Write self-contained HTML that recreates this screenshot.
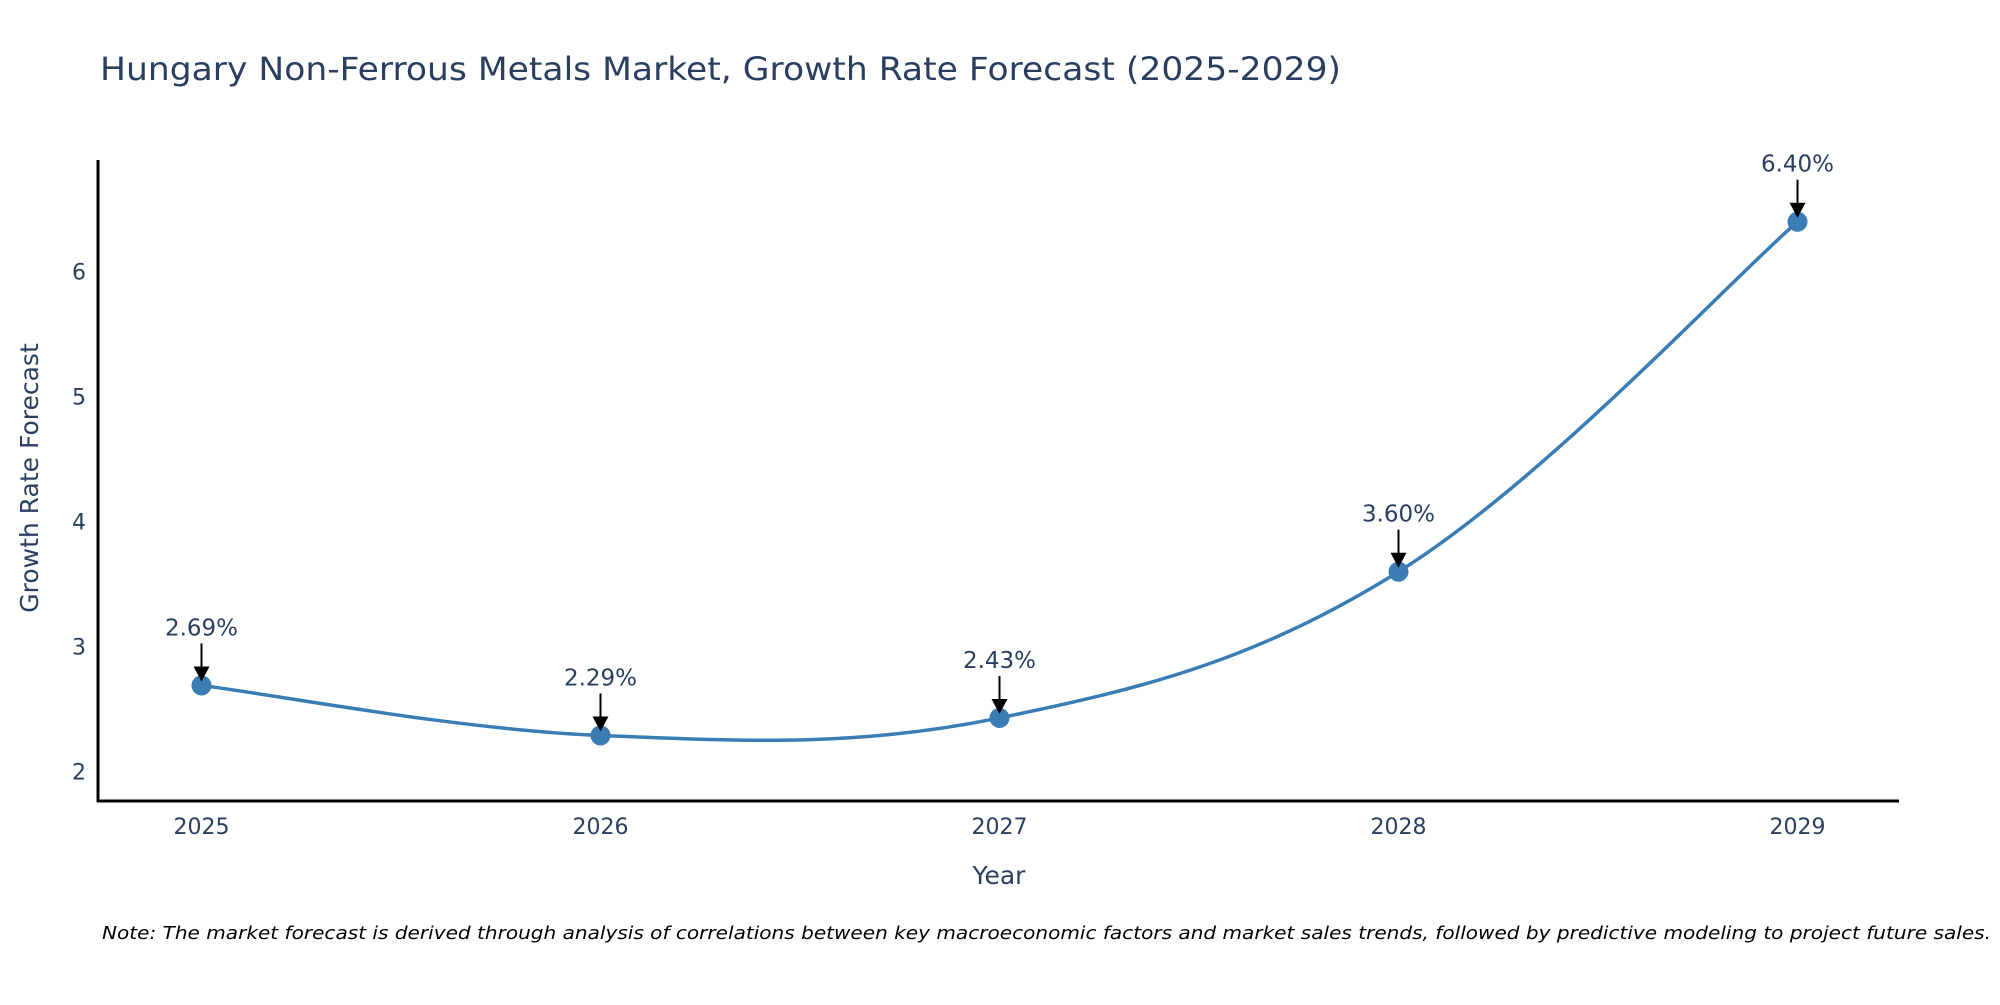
<!DOCTYPE html>
<html><head><meta charset="utf-8">
<style>
body{margin:0;background:#fff;}
svg text{font-family:"DejaVu Sans","Liberation Sans",sans-serif;}
</style></head>
<body>
<svg id="chart" width="2000" height="1000" viewBox="0 0 2000 1000">
<text x="100" y="80" font-size="32" fill="#2a3f5f" textLength="1241" lengthAdjust="spacingAndGlyphs">Hungary Non-Ferrous Metals Market, Growth Rate Forecast (2025-2029)</text>
<g id="yticks"></g><g id="xticks"></g>
<line x1="98" y1="160" x2="98" y2="802" stroke="#000" stroke-width="3"/>
<line x1="97" y1="801" x2="1899" y2="801" stroke="#000" stroke-width="3"/>
<g id="series"></g>
<text x="999" y="884" font-size="25" fill="#2a3f5f" text-anchor="middle">Year</text>
<text transform="translate(38,478) rotate(-90)" font-size="25" fill="#2a3f5f" text-anchor="middle">Growth Rate Forecast</text>
<text x="102" y="939" font-size="18" font-style="italic" fill="#000" textLength="1889" lengthAdjust="spacingAndGlyphs">Note: The market forecast is derived through analysis of correlations between key macroeconomic factors and market sales trends, followed by predictive modeling to project future sales.</text>
</svg>
<script>
const years = [2025, 2026, 2027, 2028, 2029];
const growth = [2.69, 2.29, 2.43, 3.60, 6.40];
const valueLabels = ["2.69%", "2.29%", "2.43%", "3.60%", "6.40%"];
const yTicks = [2, 3, 4, 5, 6];

const NS = "http://www.w3.org/2000/svg";
function xs(v){ return 201.5 + (v - 2025) * 399; }
function ys(v){ return 771.7 - (v - 2) * 125; }
function mk(tag, attrs, parent){ const e=document.createElementNS(NS,tag); for(const k in attrs) e.setAttribute(k,attrs[k]); parent.appendChild(e); return e; }

const yg=document.getElementById('yticks');
yTicks.forEach(t=>{
  const e=mk('text',{x:86,y:ys(t)+8,'font-size':22,fill:'#2a3f5f','text-anchor':'end'},yg);
  
  
  e.textContent=t;
});
const xg=document.getElementById('xticks');
years.forEach(t=>{
  const e=mk('text',{x:xs(t),y:834,'font-size':22,fill:'#2a3f5f','text-anchor':'middle'},xg);
  
  
  e.textContent=t;
});

const sg=document.getElementById('series');
const pts=years.map((y,i)=>[xs(y),ys(growth[i])]);
let d='M'+pts[0][0]+','+pts[0][1];
const s=0.18;
for(let i=0;i<pts.length-1;i++){
  const p0=pts[Math.max(i-1,0)],p1=pts[i],p2=pts[i+1],p3=pts[Math.min(i+2,pts.length-1)];
  const c1=[p1[0]+(p2[0]-p0[0])*s,p1[1]+(p2[1]-p0[1])*s];
  const c2=[p2[0]-(p3[0]-p1[0])*s,p2[1]-(p3[1]-p1[1])*s];
  d+=' C'+c1[0]+','+c1[1]+' '+c2[0]+','+c2[1]+' '+p2[0]+','+p2[1];
}
const line=mk('path',{d:d,fill:'none',stroke:'#3a7db5','stroke-width':3.5},sg);


pts.forEach((p,i)=>{
  const c=mk('circle',{cx:p[0],cy:p[1],r:10,fill:'#3a7db5'},sg);
  
  
  const a=mk('line',{x1:p[0],y1:p[1]-42,x2:p[0],y2:p[1]-14,stroke:'#000','stroke-width':2},sg);
  
  
  const h=mk('polygon',{points:(p[0]-8)+','+(p[1]-19)+' '+(p[0]+8)+','+(p[1]-19)+' '+p[0]+','+(p[1]-4),fill:'#000'},sg);
  
  
  const t=mk('text',{x:p[0],y:p[1]-50,'font-size':23,fill:'#2a3f5f','text-anchor':'middle'},sg);
  
  
  t.textContent=valueLabels[i];
});
</script>
</body></html>
